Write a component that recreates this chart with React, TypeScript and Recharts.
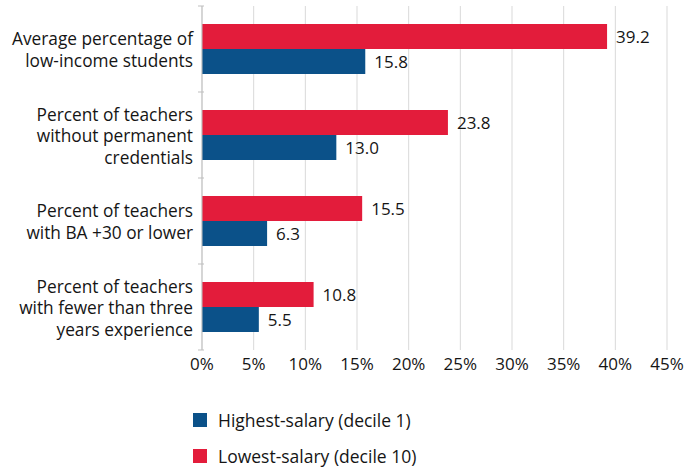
import { BarChart, Bar, XAxis, YAxis, CartesianGrid, LabelList, Legend } from 'recharts';

const categories = [
  ['Average percentage of', 'low-income students'],
  ['Percent of teachers', 'without permanent', 'credentials'],
  ['Percent of teachers', 'with BA +30 or lower'],
  ['Percent of teachers', 'with fewer than three', 'years experience'],
];
const lowestSalary = [39.2, 23.8, 15.5, 10.8];
const highestSalary = [15.8, 13.0, 6.3, 5.5];
const xTicks = [0, 5, 10, 15, 20, 25, 30, 35, 40, 45];

const RED = '#E31C3B';
const BLUE = '#0B5189';
const FONT = '"Open Sans", sans-serif';
const INK = '#151515';

const data = categories.map((lines, i) => ({
  name: lines.join(' '),
  lines,
  lowest: lowestSalary[i],
  highest: highestSalary[i],
}));

function CategoryTick(props: any) {
  const { x, y, index } = props;
  const lines: string[] = categories[index] || [];
  const lh = 21.5;
  const startY = y - ((lines.length - 1) * lh) / 2;
  const half = 43;
  return (
    <g>
      <line x1={x + 4} x2={x + 10} y1={y - half} y2={y - half} stroke="#bfbfbf" />
      {index === categories.length - 1 && (
        <line x1={x + 4} x2={x + 10} y1={y + half} y2={y + half} stroke="#bfbfbf" />
      )}
      <text x={x - 1} y={startY} textAnchor="end" fontFamily={FONT} fontSize={17.3} fill={INK} dominantBaseline="central">
        {lines.map((l, i) => (
          <tspan key={i} x={x - 1} y={startY + i * lh}>{l}</tspan>
        ))}
      </text>
    </g>
  );
}

function LegendBox() {
  const items = [
    { label: 'Highest-salary (decile 1)', color: BLUE },
    { label: 'Lowest-salary (decile 10)', color: RED },
  ];
  return (
    <div style={{ position: 'relative', height: 80, fontFamily: FONT, fontSize: 17.5, color: INK }}>
      {items.map((it, i) => (
        <div key={i} style={{ position: 'absolute', left: 193, top: 30 + i * 36, height: 20, display: 'flex', alignItems: 'center' }}>
          <span style={{ width: 14, height: 14, background: it.color, display: 'inline-block', marginRight: 11 }} />
          <span>{it.label}</span>
        </div>
      ))}
    </div>
  );
}

export default function App() {
  return (
    <div style={{ position: 'absolute', left: 0, top: 0, width: 684, height: 470, background: '#fff' }}>
      <BarChart
        width={684}
        height={470}
        data={data}
        layout="vertical"
        margin={{ top: 6, right: 17, bottom: 10, left: 0 }}
        barCategoryGap="21%"
        barGap={0}
      >
        <CartesianGrid horizontal={false} stroke="#d9d9d9" />
        <XAxis
          type="number"
          domain={[0, 45]}
          ticks={xTicks}
          tickFormatter={(v) => `${v}%`}
          axisLine={false}
          tickLine={false}
          height={30}
          interval={0}
          tick={{ fontFamily: FONT, fontSize: 17, fill: INK }}
        />
        <YAxis
          type="category"
          dataKey="name"
          width={202}
          axisLine={{ stroke: '#bfbfbf' }}
          tickLine={false}
          tick={<CategoryTick />}
          interval={0}
        />
        <Legend
          verticalAlign="bottom"
          layout="vertical"
          wrapperStyle={{ left: 0, width: 684 }}
          content={() => <LegendBox />}
        />
        <Bar dataKey="lowest" fill={RED} isAnimationActive={false}>
          <LabelList
            dataKey="lowest"
            position="right"
            offset={9}
            formatter={(v: any) => Number(v).toFixed(1)}
            style={{ fontFamily: FONT, fontSize: 17, fill: INK }}
          />
        </Bar>
        <Bar dataKey="highest" fill={BLUE} isAnimationActive={false}>
          <LabelList
            dataKey="highest"
            position="right"
            offset={9}
            formatter={(v: any) => Number(v).toFixed(1)}
            style={{ fontFamily: FONT, fontSize: 17, fill: INK }}
          />
        </Bar>
      </BarChart>
    </div>
  );
}
